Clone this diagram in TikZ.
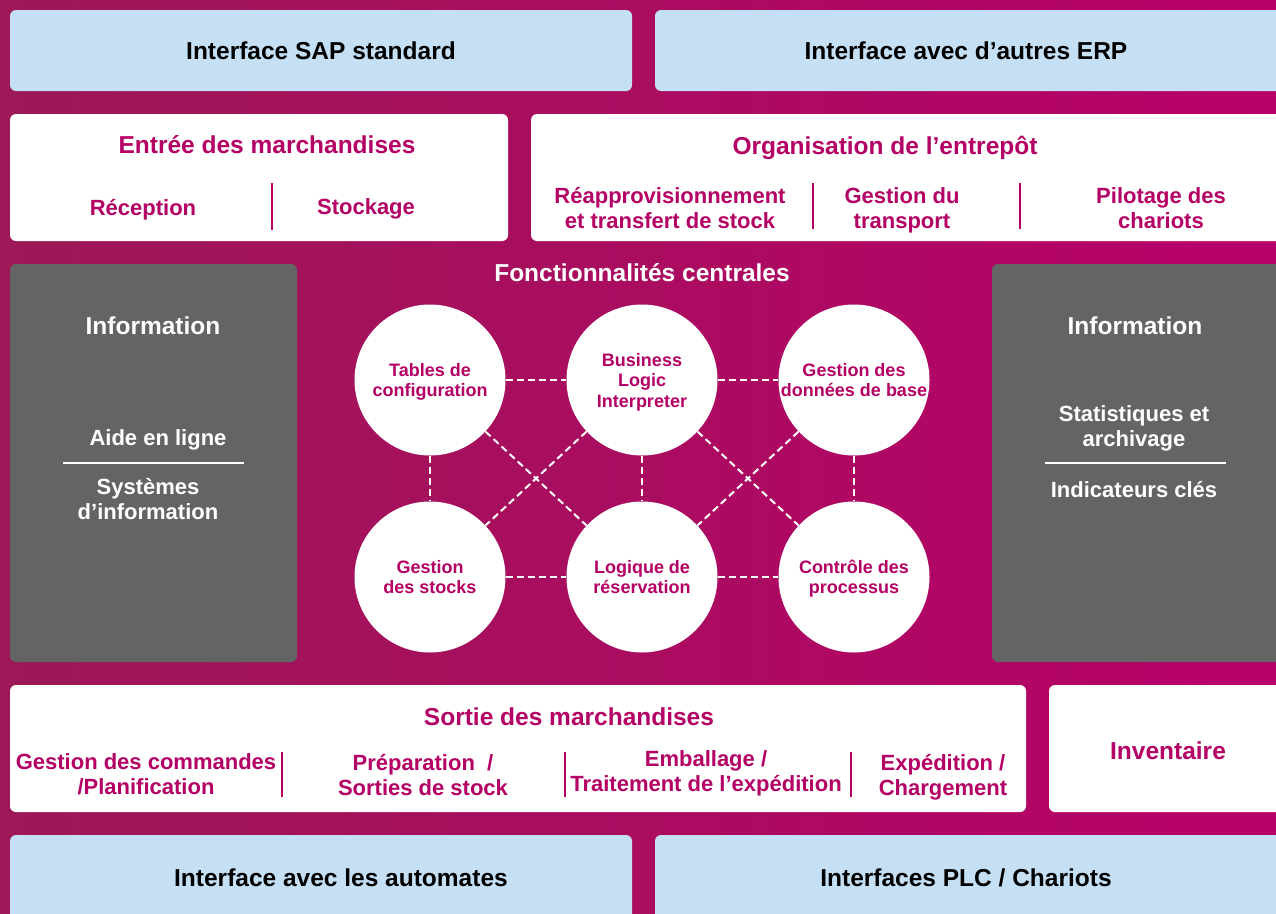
\documentclass[tikz,border=0pt]{standalone}
\usepackage{fontspec}
\setmainfont{Liberation Sans}
\usetikzlibrary{shapes}
\definecolor{bgleft}{RGB}{156,24,86}
\definecolor{bgright}{RGB}{184,0,106}
\definecolor{pink}{RGB}{180,0,100}
\definecolor{sky}{RGB}{197,224,244}
\definecolor{slate}{RGB}{100,100,100}
\tikzset{
	title/.style={font=\bfseries\fontsize{24.5}{28}\selectfont, inner sep=0pt, text depth=0pt, align=center},
	item/.style={font=\bfseries\fontsize{22}{25.5}\selectfont, inner sep=0pt, text depth=0pt, align=center, text=pink},
	func/.style={circle, fill=white, minimum size=151pt, inner sep=0pt, text depth=0pt, align=center, text=pink, font=\bfseries\fontsize{18}{20.5}\selectfont},
	link/.style={white, line width=2pt, dash pattern=on 7pt off 4pt},
	sep/.style={pink, line width=2pt},
	rule/.style={white, line width=2pt},
}

\begin{document}
\begin{tikzpicture}[x=1pt, y=-1pt]
		\useasboundingbox (0, 0) rectangle (1276, 913);
		\clip (0, 0) rectangle (1276, 913);
		\shade [left color=bgleft, right color=bgright] (0, 0) rectangle (1276, 913);
		\fill [sky, rounded corners=6pt] (10, 10) rectangle (632, 91);
		\fill [sky, rounded corners=6pt] (655, 10) rectangle (1290, 91);
		\fill [white, rounded corners=6pt] (10, 114) rectangle (508, 241);
		\fill [white, rounded corners=6pt] (531, 114) rectangle (1290, 241);
		\fill [slate, rounded corners=6pt] (10, 264) rectangle (297, 662);
		\fill [slate, rounded corners=6pt] (992, 264) rectangle (1290, 662);
		\fill [white, rounded corners=6pt] (10, 685) rectangle (1026, 812);
		\fill [white, rounded corners=6pt] (1049, 685) rectangle (1290, 812);
		\fill [sky, rounded corners=6pt] (10, 835) rectangle (632, 930);
		\fill [sky, rounded corners=6pt] (655, 835) rectangle (1290, 930);
		\path (321, 51) node(sap) [title] {Interface SAP standard};
		\path (966, 51) node(erp) [title] {Interface avec d’autres ERP};
		\path (267, 145) node(entree) [title, text=pink] {Entrée des marchandises};
		\path (143, 207) node(recep) [item] {Réception};
		\path (366, 207) node(stock) [item] {Stockage};
		\draw [sep] (272, 183) -- (272, 230);
		\path (885, 145) node(orga) [title, text=pink] {Organisation de l’entrepôt};
		\path (670, 208) node(reappro) [item] {Réapprovisionnement\\et transfert de stock};
		\path (902, 208) node(transp) [item] {Gestion du\\transport};
		\path (1161, 208) node(pilot) [item] {Pilotage des\\chariots};
		\draw [sep] (813, 183) -- (813, 229);
		\draw [sep] (1020, 183) -- (1020, 229);
		\path (153, 326) node(infoa) [title, text=white] {Information};
		\path (158, 438) node(aide) [item, text=white] {Aide en ligne};
		\draw [rule] (63, 463) -- (244, 463);
		\path (148, 499) node(sysinfo) [item, text=white] {Systèmes\\d’information};
		\path (1135, 326) node(infob) [title, text=white] {Information};
		\path (1134, 426) node(stat) [item, text=white] {Statistiques et\\archivage};
		\draw [rule] (1045, 463) -- (1226, 463);
		\path (1134, 489) node(kpi) [item, text=white] {Indicateurs clés};
		\path (642, 273) node(central) [title, text=white] {Fonctionnalités centrales};
		\path (430, 380) node(tab) [func] {Tables de\\configuration};
		\path (642, 380) node(bli) [func] {Business\\Logic\\Interpreter};
		\path (854, 380) node(gdb) [func] {Gestion des\\données de base};
		\path (430, 577) node(gst) [func] {Gestion\\des stocks};
		\path (642, 577) node(res) [func] {Logique de\\réservation};
		\path (854, 577) node(ctrl) [func] {Contrôle des\\processus};
		\draw [link] (tab) to (bli);
		\draw [link] (bli) to (gdb);
		\draw [link] (gst) to (res);
		\draw [link] (res) to (ctrl);
		\draw [link] (tab) to (gst);
		\draw [link] (bli) to (res);
		\draw [link] (gdb) to (ctrl);
		\draw [link] (tab) to (res);
		\draw [link] (bli) to (gst);
		\draw [link] (bli) to (ctrl);
		\draw [link] (gdb) to (res);
		\path (569, 717) node(sortie) [title, text=pink] {Sortie des marchandises};
		\path (146, 774) node(cmd) [item] {Gestion des commandes\\/Planification};
		\path (423, 775) node(prep) [item] {Préparation~ /\\Sorties de stock};
		\path (706, 771) node(emb) [item] {Emballage /\\Traitement de l’expédition};
		\path (943, 775) node(exp) [item] {Expédition /\\Chargement};
		\draw [sep] (282, 752) -- (282, 797);
		\draw [sep] (565, 752) -- (565, 797);
		\draw [sep] (851, 752) -- (851, 797);
		\path (1168, 751) node(inv) [title, text=pink] {Inventaire};
		\path (341, 878) node(autom) [title] {Interface avec les automates};
		\path (966, 878) node(plc) [title] {Interfaces PLC / Chariots};
	\end{tikzpicture}
\end{document}
